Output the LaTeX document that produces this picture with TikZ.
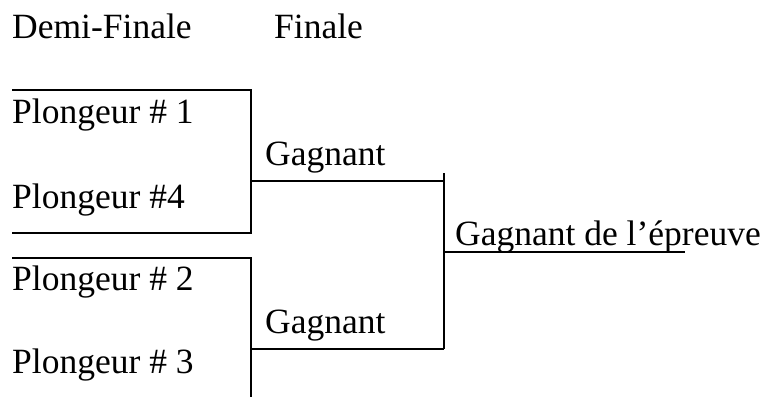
\documentclass[tikz,border=0pt]{standalone}
\usepackage{fontspec}
\setmainfont{Liberation Serif}

\tikzset{
  bracket/.style={line width=1.9pt},
  txt/.style={anchor=base west, inner sep=0pt, font=\fontsize{35.5}{42}\selectfont}
}

\begin{document}
\begin{tikzpicture}[x=1pt,y=-1pt]
    \useasboundingbox (0,0) rectangle (765,397);

    %titres
    \node[txt] (demi) at (12,38) {Demi-Finale};
    \node[txt] (finale) at (274,38) {Finale};

    %demi-finale 1
    \coordinate (d1a) at (12,90);
    \coordinate (d1b) at (251,90);
    \coordinate (d1c) at (251,233);
    \coordinate (d1d) at (12,233);
    \draw[bracket] (d1a) -- (d1b) -- (d1c) -- (d1d);
    \node[txt] (p1) at (12,123) {Plongeur \# 1};
    \node[txt] (p4) at (12,208) {Plongeur \#4};

    %demi-finale 2
    \coordinate (d2a) at (12,258);
    \coordinate (d2b) at (251,258);
    \coordinate (d2c) at (251,397);
    \draw[bracket] (d2a) -- (d2b) -- (d2c);
    \node[txt] (p2) at (12,290) {Plongeur \# 2};
    \node[txt] (p3) at (12,373) {Plongeur \# 3};

    %finale
    \coordinate (g1a) at (251,181);
    \coordinate (g1b) at (444,181);
    \coordinate (g2a) at (251,349);
    \coordinate (g2b) at (444,349);
    \coordinate (ftop) at (444,173);
    \draw[bracket] (g1a) -- (g1b);
    \draw[bracket] (g2a) -- (g2b);
    \draw[bracket] (ftop) -- (g2b);
    \node[txt] (g1) at (265,165) {Gagnant};
    \node[txt] (g2) at (265,333) {Gagnant};

    %vainqueur
    \coordinate (va) at (444,252);
    \coordinate (vb) at (685,252);
    \draw[bracket] (va) -- (vb);
    \node[txt] (win) at (455,245) {Gagnant de l’épreuve};
\end{tikzpicture}
\end{document}
